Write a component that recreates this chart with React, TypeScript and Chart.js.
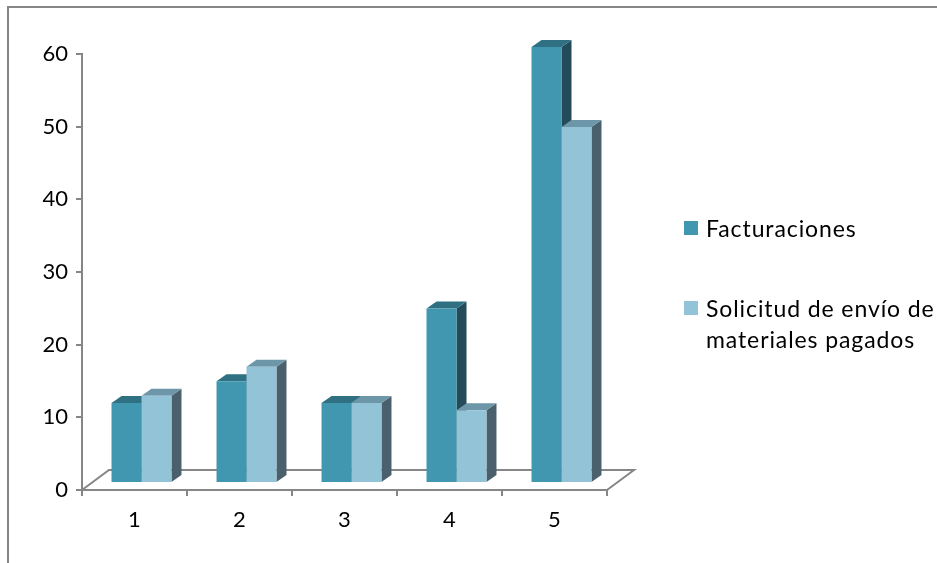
import React, { useEffect, useRef } from "react";
import { Chart, registerables } from "chart.js";

Chart.register(...registerables);

const categories = ["1", "2", "3", "4", "5"];
const facturaciones = [11, 14, 11, 24, 60];
const solicitudes = [12, 16, 11, 10, 49];
const legendFacturaciones = ["Facturaciones"];
const legendSolicitudes = ["Solicitud de envío de", "materiales pagados"];

const AXIS_COLOR = "#868686";
const FONT = "Lato";

// Front faces sit slightly inside the floor; the depth of each column is a fixed oblique offset.
const FACE_SHIFT = { x: 7, y: -7 };
const BAR_DEPTH = { x: 10, y: -7 };
const FLOOR_DEPTH = { x: 27, y: -20 };

const faces = [
  { top: "#2F7182", side: "#234B5A" },
  { top: "#6D96A8", side: "#4A606C" },
];

function quad(ctx: CanvasRenderingContext2D, pts: number[][], color: string) {
  ctx.fillStyle = color;
  ctx.beginPath();
  pts.forEach(([x, y], i) => (i ? ctx.lineTo(x, y) : ctx.moveTo(x, y)));
  ctx.closePath();
  ctx.fill();
}

const oblique3d = {
  id: "oblique3d",
  beforeDraw(chart: any) {
    // Outer frame along the top and left edges of the page
    const { ctx, width, height } = chart;
    ctx.save();
    ctx.strokeStyle = AXIS_COLOR;
    ctx.lineWidth = 2;
    ctx.beginPath();
    ctx.moveTo(8, height);
    ctx.lineTo(8, 7);
    ctx.lineTo(width, 7);
    ctx.stroke();
    ctx.restore();
  },
  beforeDatasetsDraw(chart: any) {
    const { ctx, chartArea } = chart;
    const { left, right, bottom } = chartArea;

    // Floor outline behind the columns
    ctx.save();
    ctx.strokeStyle = AXIS_COLOR;
    ctx.lineWidth = 2;
    ctx.beginPath();
    ctx.moveTo(left, bottom);
    ctx.lineTo(left + FLOOR_DEPTH.x, bottom + FLOOR_DEPTH.y);
    ctx.lineTo(right + FLOOR_DEPTH.x, bottom + FLOOR_DEPTH.y);
    ctx.lineTo(right, bottom);
    ctx.stroke();
    ctx.restore();

    ctx.save();
    ctx.translate(FACE_SHIFT.x, FACE_SHIFT.y);
    chart.data.datasets.forEach((_: any, di: number) => {
      chart.getDatasetMeta(di).data.forEach((bar: any) => {
        const { x, y, base, width } = bar.getProps(["x", "y", "base", "width"], true);
        const l = x - width / 2;
        const r = x + width / 2;
        const dx = BAR_DEPTH.x;
        const dy = BAR_DEPTH.y;
        quad(ctx, [[r, y], [r + dx, y + dy], [r + dx, base + dy], [r, base]], faces[di].side);
        quad(ctx, [[l, y], [l + dx, y + dy], [r + dx, y + dy], [r, y]], faces[di].top);
      });
    });
  },
  afterDatasetsDraw(chart: any) {
    chart.ctx.restore();
  },
  afterDraw(chart: any) {
    // Legend on the right, with the long label broken over two lines
    const { ctx } = chart;
    const entries = [
      { lines: legendFacturaciones, y: 221, color: chart.data.datasets[0].backgroundColor },
      { lines: legendSolicitudes, y: 301, color: chart.data.datasets[1].backgroundColor },
    ];
    ctx.save();
    ctx.font = `23px ${FONT}`;
    ctx.letterSpacing = "0.9px";
    ctx.textBaseline = "middle";
    entries.forEach(({ lines, y, color }) => {
      ctx.fillStyle = color;
      ctx.fillRect(684, y, 14, 14);
      ctx.fillStyle = "#000";
      lines.forEach((line, i) => ctx.fillText(line, 706, y + 9 + i * 31));
    });
    ctx.restore();
  },
};

export default function App() {
  const ref = useRef<HTMLCanvasElement>(null);
  useEffect(() => {
    const chart = new Chart(ref.current!, {
      type: "bar",
      data: {
        labels: categories,
        datasets: [
          { label: "Facturaciones", data: facturaciones, backgroundColor: "#4297B0" },
          { label: "Solicitud de envío de materiales pagados", data: solicitudes, backgroundColor: "#93C3D6" },
        ],
      },
      plugins: [oblique3d],
      options: {
        animation: false,
        responsive: false,
        layout: { padding: { left: 0, top: 54, right: 330, bottom: 29 } },
        plugins: { legend: { display: false }, tooltip: { enabled: false } },
        datasets: { bar: { categoryPercentage: 0.571, barPercentage: 1, clip: false } },
        scales: {
          x: {
            afterFit: (s: any) => { s.height = 44; },
            border: { color: AXIS_COLOR, width: 2 },
            grid: { drawOnChartArea: false, color: AXIS_COLOR, lineWidth: 2, tickLength: 6 },
            ticks: { color: "#000", font: { family: FONT, size: 22 }, padding: 11, maxRotation: 0 },
          },
          y: {
            min: 0,
            max: 60,
            afterFit: (s: any) => { s.width = 82; },
            border: { color: AXIS_COLOR, width: 2 },
            grid: { drawOnChartArea: false, color: AXIS_COLOR, lineWidth: 2, tickLength: 6 },
            ticks: { stepSize: 10, color: "#000", font: { family: FONT, size: 22 }, padding: 8 },
          },
        },
      },
    } as any);
    return () => chart.destroy();
  }, []);
  return (
    <canvas
      ref={ref}
      width={937}
      height={563}
      style={{ position: "absolute", left: 0, top: 0, width: 937, height: 563, display: "block" }}
    />
  );
}
